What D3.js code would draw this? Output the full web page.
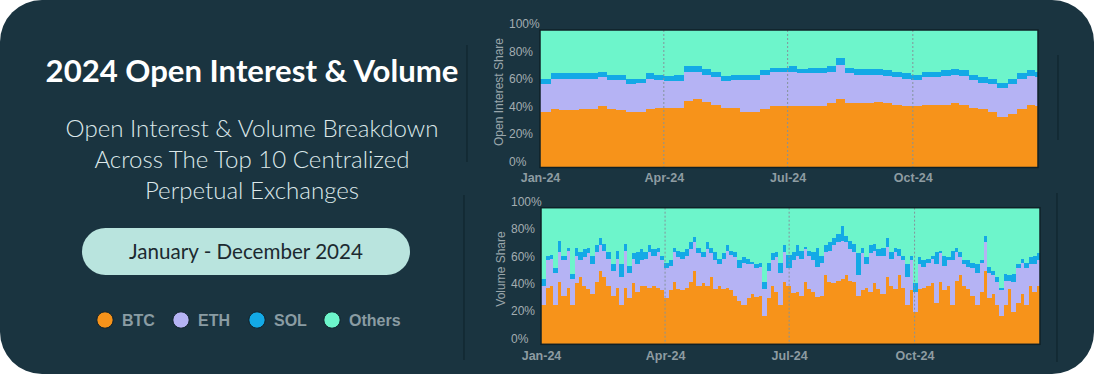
<!DOCTYPE html>
<html>
<head>
<meta charset="utf-8">
<script src="https://cdn.jsdelivr.net/npm/d3@7"></script>
<style>
html, body { margin: 0; padding: 0; background: #ffffff; }
svg { display: block; }
</style>
</head>
<body>
<svg id="chart" width="1094" height="374"></svg>
<script>
// Open interest share (%), one value per week from 1 Jan 2024
const oiStepDays = 7;
const oiBTC    = [41,43,42,42,43,43,45,43,42,41, 41,43,44,44,44,49,50,48,46,44, 44,41,41,43,45,45,45,45,45,45, 47,50,47,47,47,48,47,46,45,45, 46,46,46,47,46,44,43,41,37,39, 43,46,45];
const oiETH    = [20,22,23,23,22,22,21,21,22,20, 21,22,20,19,19,21,20,20,20,19, 20,23,23,25,25,25,25,24,24,24, 23,25,22,21,21,20,20,20,20,19, 20,20,21,21,21,20,19,20,21,22, 22,21,21];
const oiSOL    = [4,4,4,4,4,4,4,4,4,4, 3,4,4,4,5,4,4,4,4,4, 4,4,4,3,3,3,4,3,4,4, 4,5,4,4,4,4,4,4,4,4, 4,4,4,4,4,4,4,4,4,4, 4,4,4];
const oiOthers = [35,31,31,31,31,31,30,32,32,35, 35,31,32,33,32,26,26,28,30,33, 32,32,32,29,27,27,26,28,27,27, 26,20,27,28,28,28,29,30,31,32, 30,30,29,28,29,32,34,35,38,35, 31,29,30];

// Volume share (%), one value every 3 days from 1 Jan 2024
const volStepDays = 3;
const volBTC = [29,42,43,29,46,36,42,29,45,50, 43,41,37,46,54,50,43,36,42,29,
  42,34,45,39,43,43,42,43,42,40, 34,40,46,41,40,42,46,54,43,45,
  43,50,41,43,41,42,40,36,32,29, 34,37,35,36,21,34,43,39,29,46,
  43,38,39,36,46,41,39,35,36,51, 46,45,47,48,51,47,46,36,40,42,
  39,45,41,37,50,43,41,51,42,29, 40,24,41,42,43,45,31,46,40,43,
  29,47,51,43,41,36,29,39,54,34, 37,29,21,29,41,24,31,37,29,43, 39,43];
const volETH = [14,20,20,24,22,26,27,19,20,12, 21,26,22,22,19,19,20,18,21,21,
  27,19,18,20,19,20,26,22,26,22, 22,18,22,23,23,23,24,21,24,19,
  27,17,21,16,22,27,26,28,24,31, 25,22,21,21,20,20,19,25,24,22,
  13,24,26,27,24,24,23,22,24,17, 23,28,28,28,24,23,22,15,27,17,
  28,24,24,28,22,20,27,14,20,21, 22,15,18,15,17,18,28,21,18,19,
  33,21,13,16,16,20,24,21,21,19, 14,17,19,18,6,22,25,23,27,16, 20,19];
const volSOL = [5,3,3,3,8,3,2,4,6,6, 6,4,6,5,5,5,5,5,6,9,
  5,5,4,9,8,5,5,5,3,3, 4,4,3,5,5,5,5,4,4,4,
  5,4,6,4,4,4,3,4,6,4, 4,2,3,3,5,6,5,4,7,5,
  10,6,8,6,2,4,6,14,5,5, 6,5,6,11,5,6,6,16,4,5,
  6,5,5,6,6,5,3,5,3,9, 3,6,5,5,3,2,9,2,7,2,
  7,3,4,3,5,4,6,2,5,4, 3,4,2,5,4,6,3,3,4,5, 6,5];
const volOthers = [52,35,34,44,24,35,29,48,29,32, 30,29,35,27,22,26,32,41,31,41,
  26,42,33,32,30,32,27,30,29,35, 40,38,29,31,32,30,25,21,29,32,
  25,29,32,37,33,27,31,32,38,36, 37,39,41,40,54,40,33,32,40,27,
  34,32,27,31,28,31,32,29,35,27, 25,22,19,13,20,24,26,33,29,36,
  27,26,30,29,22,32,29,30,35,41, 35,55,36,38,37,35,32,31,35,36,
  31,29,32,38,38,40,41,38,20,43, 46,50,58,48,49,48,41,37,40,36, 35,33];

const seriesKeys = ["BTC", "ETH", "SOL", "Others"];
const seriesColors = ["#f7931a", "#b5b3f4", "#13a9e6", "#6df5cb"];
const yTicks = [0, 0.2, 0.4, 0.6, 0.8, 1];
const monthTicks = [new Date(2024, 0, 1), new Date(2024, 3, 1), new Date(2024, 6, 1), new Date(2024, 9, 1)];
const gridMonths = monthTicks.slice(1);

const yearStart = new Date(2024, 0, 1);
const yearEnd = new Date(2025, 0, 1);

function buildRows(step, btc, eth, sol, others) {
    return btc.map((v, i) => ({
        date: d3.timeDay.offset(yearStart, i * step),
        end: d3.min([d3.timeDay.offset(yearStart, (i + 1) * step), yearEnd]),
        BTC: v, ETH: eth[i], SOL: sol[i], Others: others[i]
    }));
}

const oiRows = buildRows(oiStepDays, oiBTC, oiETH, oiSOL, oiOthers);
const volRows = buildRows(volStepDays, volBTC, volETH, volSOL, volOthers);

const svg = d3.select("#chart");
const W = 1094, H = 374;

// card background
svg.append("rect")
    .attr("width", W).attr("height", H)
    .attr("rx", 42).attr("ry", 42)
    .attr("fill", "#1a3440");

// ---- left panel ----
const cx = 252;
const title = svg.append("text")
    .attr("x", cx).attr("y", 82)
    .attr("text-anchor", "middle")
    .attr("fill", "#ffffff")
    .attr("font-family", "Lato, 'Open Sans', sans-serif")
    .attr("font-weight", 700)
    .attr("font-size", 28)
    .text("2024 Open Interest & Volume");

function fitWidth(sel, target) {
    const w = sel.node().getComputedTextLength();
    const fs = parseFloat(sel.attr("font-size"));
    return fs * target / w;
}
title.attr("font-size", fitWidth(title, 413));

const subLines = ["Open Interest & Volume Breakdown", "Across The Top 10 Centralized", "Perpetual Exchanges"];
const subBase = [136.5, 167.5, 198.5];
const sub = svg.selectAll(".sub")
    .data(subLines)
    .join("text")
    .attr("class", "sub")
    .attr("x", cx)
    .attr("y", (d, i) => subBase[i])
    .attr("text-anchor", "middle")
    .attr("fill", "#dce8ea")
    .attr("font-family", "Lato, 'Open Sans', sans-serif")
    .attr("font-weight", 300)
    .attr("font-size", 22)
    .text(d => d);
const subSize = fitWidth(sub.filter((d, i) => i === 0), 373);
sub.attr("font-size", subSize);

// date pill
svg.append("rect")
    .attr("x", 82).attr("y", 228)
    .attr("width", 328).attr("height", 47)
    .attr("rx", 23.5)
    .attr("fill", "#b9e4de");
const pillText = svg.append("text")
    .attr("x", 246).attr("y", 259)
    .attr("text-anchor", "middle")
    .attr("fill", "#1c2a30")
    .attr("font-family", "Lato, 'Open Sans', sans-serif")
    .attr("font-weight", 400)
    .attr("font-size", 19)
    .text("January - December 2024");
pillText.attr("font-size", fitWidth(pillText, 234));

// legend
const legendX = [105, 181, 257, 332];
const legend = svg.selectAll(".legend")
    .data(seriesKeys)
    .join("g")
    .attr("class", "legend")
    .attr("transform", (d, i) => `translate(${legendX[i]},320)`);
legend.append("circle")
    .attr("r", 8.2)
    .attr("fill", (d, i) => seriesColors[i])
    .attr("stroke", "#0f2029")
    .attr("stroke-width", 1);
legend.append("text")
    .attr("x", 17)
    .attr("dy", "0.36em")
    .attr("fill", "#8a9ca3")
    .attr("font-family", "'Liberation Sans', Arial, sans-serif")
    .attr("font-weight", 700)
    .attr("font-size", 16)
    .text(d => d);

// separators
const seps = [[467, 45, 162], [464, 195, 360], [1058, 55, 140], [1057, 193, 362]];
svg.selectAll(".sep")
    .data(seps)
    .join("line")
    .attr("class", "sep")
    .attr("x1", d => d[0]).attr("x2", d => d[0])
    .attr("y1", d => d[1]).attr("y2", d => d[2])
    .attr("stroke", "#10262e")
    .attr("stroke-width", 1.2);

// ---- charts ----
const stack = d3.stack().keys(seriesKeys).offset(d3.stackOffsetExpand);

function drawPanel(rows, box, yTitle, yTitleY) {
    const x = d3.scaleTime().domain([yearStart, yearEnd]).range([box.left, box.right]);
    const y = d3.scaleLinear().domain([0, 1]).range([box.bottom, box.top]);
    const g = svg.append("g");
    const layers = stack(rows);

    g.selectAll(".layer")
        .data(layers)
        .join("g")
        .attr("fill", (d, i) => seriesColors[i])
        .attr("shape-rendering", "crispEdges")
        .selectAll("rect")
        .data(d => d)
        .join("rect")
        .attr("x", d => x(d.data.date))
        .attr("width", d => Math.min(x(d.data.end) + 1, box.right) - x(d.data.date))
        .attr("y", d => y(d[1]))
        .attr("height", d => y(d[0]) - y(d[1]) + 0.6);

    // dotted quarter lines
    g.selectAll(".qline")
        .data(gridMonths)
        .join("line")
        .attr("x1", d => x(d)).attr("x2", d => x(d))
        .attr("y1", box.top).attr("y2", box.bottom)
        .attr("stroke", "#84939a")
        .attr("stroke-width", 1)
        .attr("stroke-dasharray", "2,2");

    // frame
    g.append("rect")
        .attr("x", box.left).attr("y", box.top)
        .attr("width", box.right - box.left).attr("height", box.bottom - box.top)
        .attr("fill", "none")
        .attr("stroke", "#0f2027")
        .attr("stroke-width", 1.5);

    // x axis
    const xa = g.append("g")
        .attr("transform", `translate(0,${box.bottom})`)
        .call(d3.axisBottom(x).tickValues(monthTicks).tickFormat(d3.timeFormat("%b-%y")).tickSize(0));
    xa.select(".domain").remove();
    xa.selectAll("text")
        .attr("y", box.xLabelOffset)
        .attr("dy", "0.35em")
        .attr("fill", "#8e9ca2")
        .attr("font-family", "'Liberation Sans', Arial, sans-serif")
        .attr("font-weight", 700)
        .attr("font-size", 12.5);

    // y axis
    const ya = g.append("g")
        .attr("transform", `translate(${box.left},0)`)
        .call(d3.axisLeft(y).tickValues(yTicks).tickFormat(d3.format(".0%")).tickSize(0));
    ya.select(".domain").remove();
    ya.selectAll("text")
        .attr("x", box.yLabelX - box.left)
        .attr("dy", "0.35em")
        .attr("transform", "translate(0,-6.5)")
        .attr("text-anchor", "start")
        .attr("fill", "#a3adb1")
        .attr("font-family", "'Liberation Sans', Arial, sans-serif")
        .attr("font-size", 12);

    g.append("text")
        .attr("transform", `translate(${box.titleX},${yTitleY}) rotate(-90)`)
        .attr("text-anchor", "middle")
        .attr("dy", "0.35em")
        .attr("fill", "#9aa6ab")
        .attr("font-family", "'Liberation Sans', Arial, sans-serif")
        .attr("font-size", 12)
        .text(yTitle);
}

drawPanel(oiRows, { left: 540, right: 1038, top: 30, bottom: 167.5, xLabelOffset: 10.5, yLabelX: 509, titleX: 499 },
    "Open Interest Share", 92);
drawPanel(volRows, { left: 541, right: 1040, top: 207.7, bottom: 344.3, xLabelOffset: 11.5, yLabelX: 511, titleX: 500.5 },
    "Volume Share", 269);
</script>
</body>
</html>
